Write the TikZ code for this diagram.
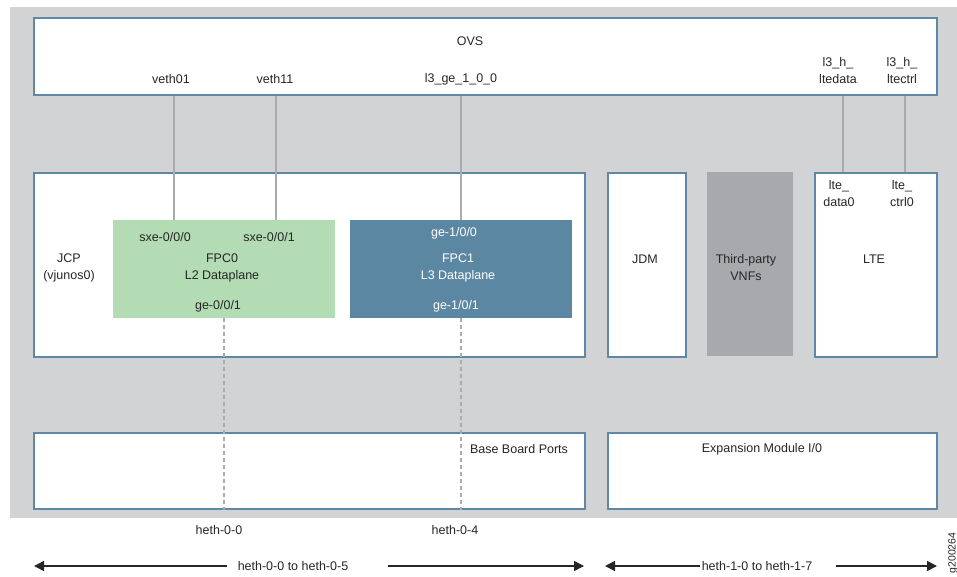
\documentclass[tikz,border=0pt]{standalone}
\usepackage{fontspec}
\setmainfont{Liberation Sans}
\usetikzlibrary{arrows.meta,positioning}
\definecolor{PanelGray}{HTML}{D1D3D4}
\definecolor{FrameBlue}{HTML}{5E88A6}
\definecolor{FpcGreen}{HTML}{B3DCB4}
\definecolor{FpcBlue}{HTML}{5C87A2}
\definecolor{VnfGray}{HTML}{A7A9AC}
\definecolor{LinkGray}{HTML}{A9ABAE}
\definecolor{TextGray}{HTML}{262626}
\tikzset{every node/.style={font=\fontsize{12.5}{17}\selectfont,text=TextGray,align=center,inner sep=0pt},
 box/.style={draw=FrameBlue,line width=2pt,fill=white,anchor=north west},
 fpc/.style={anchor=north west,minimum width=222pt,minimum height=98pt},
 link/.style={draw=LinkGray,line width=1.4pt},tap/.style={link,dash pattern=on 4pt off 3pt},
 span/.style={line width=1.5pt,black!85,-{Triangle[length=10pt,width=10pt]}}}

\begin{document}
\begin{tikzpicture}[x=1pt,y=-1pt]
\useasboundingbox (0,0) rectangle (957,577);
\fill[PanelGray] (10,7) rectangle (957,518);
% boxes
\node[box,minimum width=903pt,minimum height=77pt] (ovs) at (33,17) {};
\node[box,minimum width=551pt,minimum height=184pt] (jcp) at (33,172) {};
\node[fpc,fill=FpcGreen] (fpc0) at (113,220) {};
\node[fpc,fill=FpcBlue] (fpc1) at (350,220) {};
\node[box,minimum width=78pt,minimum height=184pt] (jdm) at (607,172) {};
\node[anchor=north west,fill=VnfGray,minimum width=86pt,minimum height=184pt] (vnf) at (707,172) {};
\node[box,minimum width=122pt,minimum height=184pt] (lte) at (814,172) {};
\node[box,minimum width=551pt,minimum height=76pt] (base) at (33,432) {};
\node[box,minimum width=329pt,minimum height=76pt] (exp) at (607,432) {};
% labels
\node (ovslbl) at (470,41) {OVS};
\node (veth01) at (171,79) {veth01};\node (veth11) at (275,79) {veth11};
\node (l3ge) at (461,79) {l3\_ge\_1\_0\_0};
\node (ltedata) at (838,71) {l3\_h\_\\ltedata};\node (ltectrl) at (902,71) {l3\_h\_\\ltectrl};
\node (jcplbl) at (69,268) {JCP\\(vjunos0)};
\node (sxe0) at (165,237) {sxe-0/0/0};\node (sxe1) at (269,237) {sxe-0/0/1};
\node (fpc0lbl) at (222,268) {FPC0\\L2 Dataplane};\node (ge0) at (218,306) {ge-0/0/1};
\node[text=white] (ge10) at (454,233) {ge-1/0/0};
\node[text=white] (fpc1lbl) at (458,268) {FPC1\\L3 Dataplane};
\node[text=white] (ge11) at (456,306) {ge-1/0/1};
\node (jdmlbl) at (645,259) {JDM};\node (vnflbl) at (746,268) {Third-party\\VNFs};
\node (ltelbl) at (874,259) {LTE};
\node (data0) at (839,194) {lte\_\\data0};\node (ctrl0) at (902,194) {lte\_\\ctrl0};
\node (baselbl) at (519,449) {Base Board Ports};
\node (explbl) at (762,449) {Expansion Module I/0};
\node (heth00) at (219,530) {heth-0-0};\node (heth04) at (455,530) {heth-0-4};
\node (lspan) at (293,566) {heth-0-0 to heth-0-5};
\node (rspan) at (757,566) {heth-1-0 to heth-1-7};
\node[rotate=90,font=\fontsize{10.5}{12}\selectfont] (figid) at (953,553) {g200264};
% connectors
\foreach \x/\a/\b in {174/ovs/fpc0,276/ovs/fpc0,461/ovs/fpc1,843/ovs/lte,905/ovs/lte}
  \draw[link] (\a.south -| \x,0) -- (\b.north -| \x,0);
\foreach \x/\a in {224/fpc0,461/fpc1}
  \draw[tap] (\a.south -| \x,0) -- (base.south -| \x,0);
\coordinate (l0) at (34,566);\coordinate (l1) at (584,566);
\coordinate (r0) at (605,566);\coordinate (r1) at (937,566);
\draw[span] ([xshift=-11pt]lspan.west) -- (l0);\draw[span] ([xshift=40pt]lspan.east) -- (l1);
\draw[span] ([xshift=-2pt]rspan.west) -- (r0);\draw[span] ([xshift=24pt]rspan.east) -- (r1);
\end{tikzpicture}
\end{document}
